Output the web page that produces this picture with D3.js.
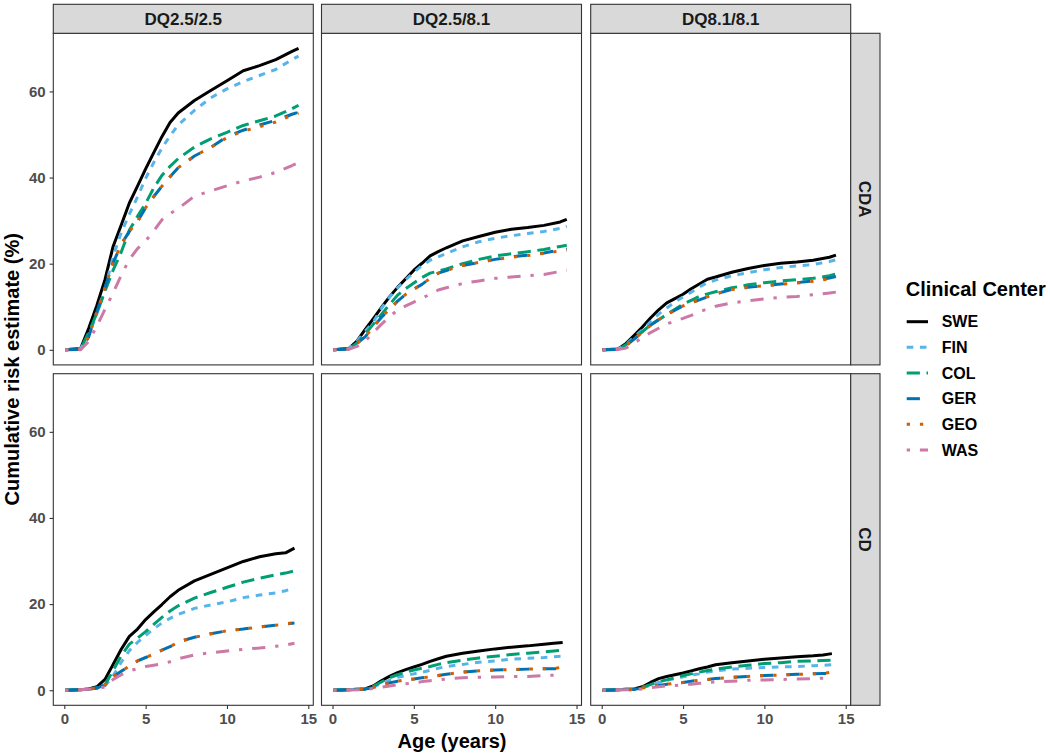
<!DOCTYPE html>
<html><head><meta charset="utf-8">
<script src="https://cdn.jsdelivr.net/npm/d3@7"></script>
<style>
body{margin:0;background:#fff}
svg{display:block}
text{font-family:"Liberation Sans",Arial,Helvetica,sans-serif}
</style>
</head><body>
<svg id="chart" width="1050" height="754"></svg>
<script>
// ---------------- data ----------------
const centers = ["SWE", "FIN", "COL", "GER", "GEO", "WAS"];
const centerColors = ["#000000", "#56B4E9", "#009E73", "#0072B2", "#D55E00", "#CC79A7"];
const centerLinetypes = ["solid", "22", "42", "44", "13", "1343"];
const genotypes = ["DQ2.5/2.5", "DQ2.5/8.1", "DQ8.1/8.1"];
const outcomes = ["CDA", "CD"];
const xTicks = [0, 5, 10, 15];
const yTicks = [0, 20, 40, 60];

const agesCDA = [0.05, 1.0, 1.5, 2.0, 2.5, 3.0, 3.5, 4.0, 4.5, 5.0, 5.5, 6.0, 6.5, 7.0, 8.0, 9.0, 10.0, 11.0, 12.0, 13.0, 14.0, 14.4];
const agesCD  = [0.05, 1.0, 1.5, 2.0, 2.5, 3.0, 3.5, 4.0, 4.5, 5.0, 5.5, 6.0, 6.5, 7.0, 8.0, 9.0, 10.0, 11.0, 12.0, 13.0, 13.6, 14.15];

// rows follow `centers` order: SWE, FIN, COL, GER, GEO, WAS
const cdaDQ25_25 = [
  [0, 0.3, 5.0, 10.3, 16.3, 24.0, 29.0, 34.1, 38.0, 42.0, 45.8, 49.5, 52.8, 55.0, 57.9, 60.2, 62.5, 64.8, 66.0, 67.4, 69.3, 70.0],
  [0, 0.3, 3.5, 8.3, 14.0, 21.7, 27.2, 31.5, 35.5, 39.8, 43.5, 46.8, 49.7, 52.2, 55.6, 58.5, 60.6, 62.3, 63.7, 65.1, 67.4, 68.2],
  [0, 0.2, 4.0, 8.5, 13.6, 18.5, 22.7, 27.8, 31.0, 34.0, 37.6, 40.5, 42.6, 44.4, 47.1, 49.0, 50.5, 52.1, 53.2, 54.3, 56.0, 56.8],
  [0, 0.1, 3.0, 8.8, 14.4, 20.2, 24.5, 27.5, 29.8, 33.0, 35.6, 38.0, 40.2, 42.3, 45.0, 47.0, 49.5, 51.0, 52.2, 53.3, 54.7, 55.2],
  [0, 0.1, 3.0, 8.8, 14.4, 20.2, 24.5, 27.5, 29.8, 33.0, 35.6, 38.0, 40.2, 42.3, 45.0, 47.0, 49.3, 50.8, 51.8, 52.9, 54.5, 55.0],
  [0, 0.0, 2.0, 5.5, 9.4, 13.2, 17.3, 21.0, 23.5, 25.3, 27.6, 30.2, 31.6, 32.8, 35.7, 36.9, 38.1, 39.2, 40.1, 41.2, 42.8, 43.5]
];
const cdaDQ25_81 = [
  [0, 0.3, 2.0, 4.7, 7.2, 9.8, 12.3, 14.5, 16.5, 18.5, 20.1, 21.8, 22.8, 23.7, 25.3, 26.3, 27.3, 28.0, 28.4, 28.9, 29.7, 30.3],
  [0, 0.3, 2.0, 4.3, 6.4, 9.6, 12.2, 14.4, 16.3, 18.0, 19.6, 20.8, 21.6, 22.4, 23.9, 25.1, 25.9, 26.5, 27.0, 27.5, 28.2, 28.7],
  [0, 0.2, 1.6, 3.6, 5.9, 8.2, 10.5, 12.7, 14.2, 15.5, 16.8, 17.8, 18.3, 18.8, 20.0, 21.0, 21.8, 22.3, 22.8, 23.3, 24.0, 24.3],
  [0, 0.2, 1.5, 3.0, 5.3, 7.5, 9.4, 11.3, 12.9, 14.1, 15.2, 16.6, 17.8, 18.4, 19.6, 20.3, 21.0, 21.6, 22.0, 22.5, 23.2, 23.4],
  [0, 0.2, 1.5, 3.0, 5.3, 7.5, 9.4, 11.3, 12.9, 14.1, 15.2, 16.6, 17.8, 18.4, 19.6, 20.3, 21.0, 21.5, 21.9, 22.4, 23.0, 23.2],
  [0, 0.1, 0.8, 2.0, 4.0, 5.9, 7.7, 9.2, 10.2, 11.1, 12.0, 12.9, 13.9, 14.4, 15.4, 16.0, 16.6, 16.9, 17.2, 17.5, 18.2, 18.5]
];
const cdaDQ81_81 = [
  [0, 0.2, 1.5, 3.4, 5.3, 7.4, 9.3, 10.9, 11.9, 12.9, 14.2, 15.3, 16.4, 16.9, 18.0, 18.9, 19.6, 20.1, 20.4, 20.8, 21.5, 22.0],
  [0, 0.2, 1.3, 3.0, 4.6, 6.5, 8.3, 9.7, 11.1, 12.3, 13.4, 14.6, 15.6, 16.2, 17.2, 17.9, 18.6, 19.1, 19.5, 19.8, 20.5, 20.9],
  [0, 0.1, 1.2, 2.7, 4.2, 5.8, 7.0, 8.2, 9.4, 10.6, 11.5, 12.4, 13.0, 13.5, 14.4, 15.1, 15.6, 16.0, 16.3, 16.6, 17.2, 17.6],
  [0, 0.1, 1.0, 2.5, 4.1, 5.7, 7.0, 8.2, 9.2, 10.2, 10.9, 11.6, 12.3, 13.0, 14.0, 14.5, 14.9, 15.3, 15.6, 16.0, 16.7, 17.0],
  [0, 0.1, 1.0, 2.5, 4.1, 5.7, 7.0, 8.2, 9.2, 10.2, 10.9, 11.6, 12.3, 13.0, 14.0, 14.5, 14.9, 15.2, 15.5, 15.9, 16.5, 16.8],
  [0, 0.05, 0.4, 1.6, 2.8, 4.0, 5.0, 6.0, 6.7, 7.3, 8.0, 8.8, 9.5, 10.1, 10.9, 11.4, 11.8, 12.2, 12.4, 12.8, 13.2, 13.4]
];
const cdDQ25_25 = [
  [0, 0.1, 0.3, 0.8, 2.5, 6.0, 9.5, 12.5, 14.2, 16.4, 18.2, 19.9, 21.7, 23.2, 25.4, 26.9, 28.4, 29.9, 31.0, 31.7, 31.9, 33.0],
  [0, 0.1, 0.3, 0.5, 1.0, 3.3, 6.5, 9.2, 11.1, 12.7, 14.3, 15.6, 16.7, 17.6, 19.0, 19.8, 20.5, 21.5, 22.1, 22.6, 23.1, 23.8],
  [0, 0.1, 0.3, 0.5, 1.2, 4.6, 8.0, 10.7, 12.1, 13.6, 15.3, 16.9, 18.4, 19.6, 21.4, 22.7, 23.9, 25.1, 26.0, 26.8, 27.2, 27.7],
  [0, 0.1, 0.3, 0.5, 1.3, 3.1, 4.4, 5.6, 6.8, 7.6, 8.4, 9.3, 10.1, 11.2, 12.3, 13.1, 13.8, 14.2, 14.7, 15.1, 15.4, 15.6],
  [0, 0.1, 0.3, 0.5, 1.3, 3.1, 4.4, 5.6, 6.8, 7.6, 8.4, 9.3, 10.1, 11.2, 12.3, 13.1, 13.8, 14.2, 14.7, 15.1, 15.4, 15.7],
  [0, 0.1, 0.2, 0.3, 0.8, 2.5, 3.6, 4.5, 5.0, 5.5, 5.8, 6.1, 6.6, 7.3, 8.2, 8.7, 9.1, 9.5, 9.8, 10.2, 10.5, 10.9]
];
const cdDQ25_81 = [
  [0, 0.1, 0.2, 0.3, 1.0, 2.2, 3.2, 4.1, 4.8, 5.4, 6.0, 6.7, 7.3, 7.9, 8.6, 9.1, 9.6, 10.0, 10.3, 10.7, 10.9, 11.1],
  [0, 0.1, 0.2, 0.3, 0.8, 1.5, 2.3, 3.0, 3.4, 3.8, 4.2, 4.6, 5.1, 5.5, 6.0, 6.5, 6.8, 7.2, 7.4, 7.6, 7.8, 7.9],
  [0, 0.1, 0.2, 0.3, 0.9, 1.9, 2.9, 3.6, 4.2, 4.7, 5.1, 5.5, 6.0, 6.4, 7.0, 7.5, 7.9, 8.3, 8.6, 8.9, 9.1, 9.3],
  [0, 0.1, 0.2, 0.3, 0.6, 1.1, 1.7, 2.1, 2.4, 2.6, 2.9, 3.1, 3.4, 3.7, 4.2, 4.5, 4.7, 4.8, 4.9, 5.0, 5.0, 5.0],
  [0, 0.1, 0.2, 0.3, 0.6, 1.1, 1.7, 2.1, 2.4, 2.6, 2.9, 3.1, 3.4, 3.7, 4.2, 4.5, 4.7, 4.8, 4.9, 5.0, 5.0, 5.4],
  [0, 0.05, 0.1, 0.2, 0.4, 0.7, 1.0, 1.3, 1.5, 1.7, 2.0, 2.2, 2.4, 2.6, 2.9, 3.0, 3.1, 3.2, 3.2, 3.4, 3.5, 3.6]
];
const cdDQ81_81 = [
  [0, 0.1, 0.2, 0.3, 0.8, 1.8, 2.7, 3.2, 3.6, 4.0, 4.5, 5.0, 5.4, 5.9, 6.4, 6.8, 7.2, 7.5, 7.8, 8.0, 8.2, 8.5],
  [0, 0.1, 0.2, 0.3, 0.6, 1.1, 1.8, 2.3, 2.7, 3.1, 3.5, 3.8, 4.2, 4.5, 4.9, 5.1, 5.3, 5.4, 5.5, 5.7, 5.8, 5.9],
  [0, 0.1, 0.2, 0.3, 0.7, 1.3, 2.0, 2.4, 2.9, 3.4, 3.8, 4.2, 4.6, 4.9, 5.4, 5.8, 6.2, 6.4, 6.7, 6.8, 6.9, 7.0],
  [0, 0.05, 0.1, 0.2, 0.5, 0.8, 1.1, 1.4, 1.6, 1.8, 2.1, 2.3, 2.5, 2.7, 3.0, 3.2, 3.4, 3.5, 3.7, 3.8, 3.9, 3.9],
  [0, 0.05, 0.1, 0.2, 0.5, 0.8, 1.1, 1.4, 1.6, 1.8, 2.1, 2.3, 2.5, 2.7, 3.0, 3.2, 3.4, 3.5, 3.7, 3.8, 3.9, 4.2],
  [0, 0.05, 0.1, 0.15, 0.3, 0.6, 0.8, 1.0, 1.1, 1.3, 1.4, 1.6, 1.8, 1.9, 2.1, 2.3, 2.4, 2.5, 2.6, 2.7, 2.8, 2.8]
];

// panel table built from the arrays above
const panelValues = [[cdaDQ25_25, cdaDQ25_81, cdaDQ81_81], [cdDQ25_25, cdDQ25_81, cdDQ81_81]];
const panelAges = [agesCDA, agesCD];

// ---------------- layout ----------------
const svg = d3.select("#chart");
const font = '"Liberation Sans",Arial,Helvetica,sans-serif';
const colX = [53.3, 321.5, 590.7];
const panelW = 260;
const rowY = [33.3, 373.7];
const panelH = 331.6;
const stripTop = 4.3;
const stripRightX = 850.7, stripRightW = 29.3;
const lineUnit = 3.3;
const border = "#333333";

// ggplot-like expansion of the data range
const xData = [0.05, 14.58], yData = [0, 70];
const xr = xData[1] - xData[0], yr = yData[1] - yData[0];
const x = d3.scaleLinear().domain([xData[0] - 0.05 * xr, xData[1] + 0.05 * xr]).range([0, panelW]);
const y = d3.scaleLinear().domain([yData[0] - 0.05 * yr, yData[1] + 0.05 * yr]).range([panelH, 0]);

function dash(lt) {
  if (lt === "solid") return null;
  return lt.split("").map(c => parseInt(c, 16) * lineUnit).join(",");
}

const line = d3.line().x(d => x(d[0])).y(d => y(d[1]));

outcomes.forEach((oc, r) => {
  genotypes.forEach((gt, c) => {
    const g = svg.append("g").attr("transform", `translate(${colX[c]},${rowY[r]})`);
    g.append("rect").attr("width", panelW).attr("height", panelH).attr("fill", "#fff");
    const clipId = `clip${r}${c}`;
    g.append("clipPath").attr("id", clipId).append("rect").attr("width", panelW).attr("height", panelH);
    const lg = g.append("g").attr("clip-path", `url(#${clipId})`);
    const ages = panelAges[r];
    const vals = panelValues[r][c];
    centers.forEach((cn, i) => {
      const pts = ages.map((a, k) => [a, vals[i][k]]);
      lg.append("path").datum(pts)
        .attr("d", line)
        .attr("fill", "none")
        .attr("stroke", centerColors[i])
        .attr("stroke-width", 3)
        .attr("stroke-linecap", "butt")
        .attr("stroke-linejoin", "round")
        .attr("stroke-dasharray", dash(centerLinetypes[i]));
    });
    g.append("rect").attr("width", panelW).attr("height", panelH)
      .attr("fill", "none").attr("stroke", border).attr("stroke-width", 1.1);

    // axes
    if (c === 0) {
      const ya = d3.axisLeft(y).tickValues(yTicks).tickSize(3.7).tickPadding(4);
      const ag = g.append("g").call(ya);
      ag.select(".domain").remove();
      ag.selectAll("line").attr("stroke", border).attr("stroke-width", 1.1);
      ag.selectAll("text").attr("font-family", font).attr("font-size", 15).attr("font-weight", "bold").attr("fill", "#4D4D4D");
    }
    if (r === outcomes.length - 1) {
      const xa = d3.axisBottom(x).tickValues(xTicks).tickSize(3.7).tickPadding(4);
      const ag = g.append("g").attr("transform", `translate(0,${panelH})`).call(xa);
      ag.select(".domain").remove();
      ag.selectAll("line").attr("stroke", border).attr("stroke-width", 1.1);
      ag.selectAll("text").attr("font-family", font).attr("font-size", 15).attr("font-weight", "bold").attr("fill", "#4D4D4D");
    }
  });
});

// top strips
genotypes.forEach((gt, c) => {
  const g = svg.append("g").attr("transform", `translate(${colX[c]},${stripTop})`);
  const h = rowY[0] - stripTop;
  g.append("rect").attr("width", panelW).attr("height", h)
    .attr("fill", "#D9D9D9").attr("stroke", border).attr("stroke-width", 1.1);
  g.append("text").attr("x", panelW / 2).attr("y", h / 2).attr("dy", "0.36em")
    .attr("text-anchor", "middle").attr("font-size", 17).attr("font-weight", "bold")
    .attr("fill", "#1A1A1A").text(gt);
});
// right strips
outcomes.forEach((oc, r) => {
  const g = svg.append("g").attr("transform", `translate(${stripRightX},${rowY[r]})`);
  g.append("rect").attr("width", stripRightW).attr("height", panelH)
    .attr("fill", "#D9D9D9").attr("stroke", border).attr("stroke-width", 1.1);
  g.append("text").attr("transform", `translate(${stripRightW / 2},${panelH / 2}) rotate(90)`)
    .attr("dy", "0.36em").attr("text-anchor", "middle").attr("font-size", 17)
    .attr("font-weight", "bold").attr("fill", "#1A1A1A").text(oc);
});

// axis titles
const plotMidY = (rowY[0] + rowY[1] + panelH) / 2;
svg.append("text").attr("transform", `translate(19,${plotMidY}) rotate(-90)`)
  .attr("text-anchor", "middle").attr("font-size", 20).attr("font-weight", "bold")
  .attr("fill", "#000").text("Cumulative risk estimate (%)");
svg.append("text").attr("x", (colX[0] + colX[2] + panelW) / 2).attr("y", 748)
  .attr("text-anchor", "middle").attr("font-size", 20).attr("font-weight", "bold")
  .attr("fill", "#000").text("Age (years)");

// legend
const leg = svg.append("g").attr("transform", "translate(905.7,0)");
leg.append("text").attr("x", 0).attr("y", 296).attr("font-size", 20).attr("font-weight", "bold")
  .attr("fill", "#000").text("Clinical Center");
centers.forEach((cn, i) => {
  const cy = 321.7 + i * 25.66;
  leg.append("line").attr("x1", 1).attr("x2", 22.3).attr("y1", cy).attr("y2", cy)
    .attr("stroke", centerColors[i]).attr("stroke-width", 3)
    .attr("stroke-dasharray", dash(centerLinetypes[i]));
  leg.append("text").attr("x", 36).attr("y", cy).attr("dy", "0.36em")
    .attr("font-size", 16).attr("font-weight", "bold").attr("fill", "#000").text(cn);
});
</script>
</body></html>
